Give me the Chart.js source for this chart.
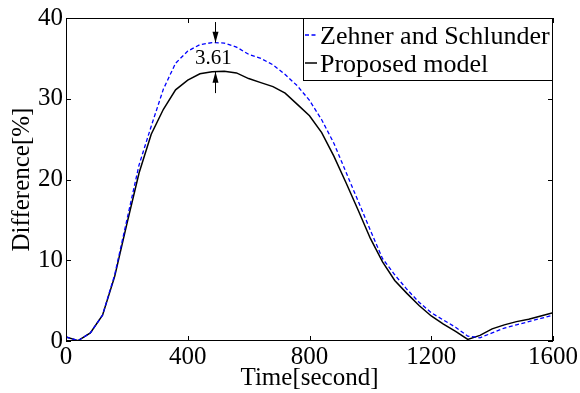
<!DOCTYPE html>
<html>
<head>
<meta charset="utf-8">
<script src="https://cdn.jsdelivr.net/npm/chart.js@4.4.0/dist/chart.umd.min.js"></script>
<style>
html,body{margin:0;padding:0;background:#fff;}
#wrap{width:580px;height:393px;}
</style>
</head>
<body>
<div id="wrap"><canvas id="c" width="580" height="393"></canvas></div>
<script>
// ---- data ----
const times = [0,40,80,120,160,200,240,280,320,360,400,440,480,520,560,600,640,680,720,760,800,
  840,880,920,960,1000,1040,1080,1120,1160,1200,1240,1280,1320,1360,1400,1440,1480,1520,1560,1600];
const zehner = [0.5,0.05,1.0,3.2,8.2,15.0,21.8,26.6,31.2,34.4,35.9,36.7,36.95,36.9,36.4,35.5,35.0,34.2,33.0,31.6,29.8,
  27.4,24.5,20.9,17.3,13.7,10.2,8.2,6.4,4.8,3.5,2.6,1.7,0.6,0.4,1.0,1.6,2.0,2.4,2.8,3.2];
const proposed = [0.5,0.05,1.0,3.2,8.0,14.5,20.8,25.6,28.7,31.1,32.3,33.1,33.35,33.4,33.2,32.5,32.0,31.5,30.7,29.3,27.9,
  25.8,22.9,19.6,16.2,12.7,9.8,7.5,5.9,4.4,3.1,2.1,1.2,0.2,0.7,1.5,2.0,2.4,2.7,3.1,3.5];
const seriesLabels = ["Zehner and Schlunder","Proposed model"];
const xTicks = [0,400,800,1200,1600];
const yTicks = [0,10,20,30,40];
const annotation = {x:490, topFrom:39.5, topTo:36.95, botFrom:30.7, botTo:33.35, text:"3.61", textX:484, textY:35.0};

const serif = "Liberation Serif";
Chart.defaults.font.family = serif;
Chart.defaults.color = '#000';

const boxPlugin = {
  id:'box',
  afterDatasetsDraw(chart){
    const ctx = chart.ctx, a = chart.chartArea;
    const xs = chart.scales.x, ys = chart.scales.y;
    ctx.save();
    ctx.strokeStyle='#000'; ctx.lineWidth=1;
    ctx.strokeRect(a.left+0.5, a.top+0.5, a.right-a.left-1, a.bottom-a.top-1);
    const tl=5;
    ctx.beginPath();
    xTicks.forEach(v=>{const p=Math.round(xs.getPixelForValue(v))+0.5;
      ctx.moveTo(p,a.bottom); ctx.lineTo(p,a.bottom-tl);
      ctx.moveTo(p,a.top); ctx.lineTo(p,a.top+tl);});
    yTicks.forEach(v=>{const p=Math.round(ys.getPixelForValue(v))+0.5;
      ctx.moveTo(a.left,p); ctx.lineTo(a.left+tl,p);
      ctx.moveTo(a.right,p); ctx.lineTo(a.right-tl,p);});
    ctx.stroke();
    const ax = Math.round(xs.getPixelForValue(annotation.x))+0.5;
    function arrow(y0,y1){
      const p0=ys.getPixelForValue(y0), p1=ys.getPixelForValue(y1);
      const dir = p1>p0?1:-1;
      ctx.beginPath(); ctx.moveTo(ax,p0); ctx.lineTo(ax,p1); ctx.stroke();
      ctx.beginPath(); ctx.moveTo(ax,p1); ctx.lineTo(ax-3,p1-dir*11); ctx.lineTo(ax+3,p1-dir*11); ctx.closePath(); ctx.fill();
    }
    ctx.fillStyle='#000';
    arrow(annotation.topFrom, annotation.topTo);
    arrow(annotation.botFrom, annotation.botTo);
    ctx.font = "21px '"+serif+"'"; ctx.textAlign='center'; ctx.textBaseline='middle';
    ctx.fillText(annotation.text, xs.getPixelForValue(annotation.textX), ys.getPixelForValue(annotation.textY));
    const lx=303, ly=18, lw=249, lh=62;
    ctx.fillStyle='#fff'; ctx.fillRect(lx,ly,lw,lh);
    ctx.strokeStyle='#000'; ctx.lineWidth=1; ctx.strokeRect(lx+0.5,ly+0.5,lw,lh);
    const rows=[{ly:35, by:43.5},{ly:63, by:72}];
    chart.data.datasets.forEach((ds,i)=>{
      ctx.save();
      ctx.strokeStyle=ds.borderColor; ctx.lineWidth=ds.borderWidth;
      ctx.setLineDash(ds.borderDash||[]);
      ctx.beginPath(); ctx.moveTo(305,rows[i].ly); ctx.lineTo(317,rows[i].ly); ctx.stroke();
      ctx.restore();
      ctx.fillStyle='#000'; ctx.font="26px '"+serif+"'"; ctx.textAlign='left'; ctx.textBaseline='alphabetic';
      ctx.fillText(ds.label, 320, rows[i].by);
    });
    ctx.restore();
  }
};

new Chart(document.getElementById('c'), {
  type:'line',
  data:{
    datasets:[
      {label:seriesLabels[0], data:times.map((t,i)=>({x:t,y:zehner[i]})), borderColor:'#0000ff', borderWidth:1.3, borderDash:[4,2.5], pointRadius:0, tension:0, fill:false},
      {label:seriesLabels[1], data:times.map((t,i)=>({x:t,y:proposed[i]})), borderColor:'#000000', borderWidth:1.5, pointRadius:0, tension:0, fill:false}
    ]
  },
  options:{
    responsive:false, animation:false, devicePixelRatio:1,
    layout:{padding:{left:0,right:27,top:16,bottom:0}},
    plugins:{legend:{display:false}, tooltip:{enabled:false}},
    scales:{
      x:{type:'linear', min:0, max:1600,
        afterBuildTicks(s){s.ticks=xTicks.map(v=>({value:v}));},
        afterFit(s){s.height=52;},
        grid:{display:false, drawTicks:false}, border:{display:false},
        ticks:{padding:1, color:'#000', font:{family:serif,size:25}, maxRotation:0, autoSkip:false, callback:v=>String(v)},
        title:{display:true, text:'Time[second]', color:'#000', font:{family:serif,size:25}, padding:{bottom:0,top:0}}
      },
      y:{type:'linear', min:0, max:40,
        afterBuildTicks(s){s.ticks=yTicks.map(v=>({value:v}));},
        afterFit(s){s.width=66;},
        grid:{display:false, drawTicks:false}, border:{display:false},
        ticks:{padding:3, color:'#000', font:{family:serif,size:25}, autoSkip:false, callback:v=>String(v)},
        title:{display:true, text:'Difference[%]', color:'#000', font:{family:serif,size:25}, padding:{top:7,bottom:0}}
      }
    }
  },
  plugins:[boxPlugin]
});
</script>
</body>
</html>
